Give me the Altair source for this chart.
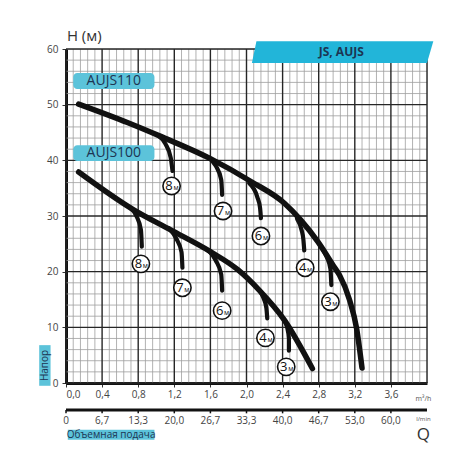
import altair as alt
import pandas as pd

# ---------------- data ----------------
# main pump curves (Q in m3/h, H in m)
aujs110_q = [0.14, 0.68, 1.05, 1.60, 2.05, 2.42, 2.60, 2.79, 2.97, 3.03, 3.14, 3.22, 3.28]
aujs110_h = [50.1, 46.8, 44.3, 40.3, 36.2, 32.3, 29.3, 25.4, 20.9, 19.4, 15.0, 9.8, 2.7]
aujs100_q = [0.14, 0.75, 1.16, 1.60, 1.90, 2.14, 2.42, 2.73]
aujs100_h = [37.9, 31.1, 27.5, 23.6, 20.4, 16.7, 11.3, 2.6]

# suction-depth branches
branch_ids = ["110-8", "110-7", "110-6", "110-4", "110-3",
              "100-8", "100-7", "100-6", "100-4", "100-3"]
branch_q = [[1.02, 1.10, 1.16, 1.18], [1.57, 1.66, 1.72, 1.73], [2.03, 2.12, 2.15, 2.16],
            [2.56, 2.61, 2.63, 2.64], [2.82, 2.89, 2.93, 2.94],
            [0.71, 0.78, 0.83, 0.84], [1.14, 1.22, 1.28, 1.29], [1.58, 1.66, 1.72, 1.73],
            [2.13, 2.19, 2.22, 2.23], [2.41, 2.45, 2.47, 2.47]]
branch_h = [[44.5, 43.0, 40.5, 38.1], [40.6, 39.0, 36.5, 33.8], [35.9, 33.4, 31.5, 29.6],
            [29.5, 27.5, 25.8, 23.8], [24.6, 22.6, 20.5, 17.6],
            [31.5, 30.0, 27.5, 24.5], [27.8, 26.0, 23.5, 20.7], [23.8, 22.0, 19.5, 16.6],
            [16.9, 15.2, 13.5, 11.6], [11.5, 10.0, 8.0, 5.8]]

# circled depth labels
label_digit = ["8", "7", "6", "4", "3", "8", "7", "6", "4", "3"]
label_unit = ["м"] * 10
label_q = [1.17, 1.74, 2.16, 2.65, 2.93, 0.83, 1.29, 1.73, 2.21, 2.44]
label_h = [35.4, 30.9, 26.4, 20.7, 14.6, 21.4, 17.1, 13.0, 8.1, 2.9]

# axes
x_ticks = [0.0, 0.4, 0.8, 1.2, 1.6, 2.0, 2.4, 2.8, 3.2, 3.6]
x_labels_m3h = ["0,0", "0,4", "0,8", "1,2", "1,6", "2,0", "2,4", "2,8", "3,2", "3,6"]
x_labels_lmin = ["0", "6,7", "13,3", "20,0", "26,7", "33,3", "40,0", "46,7", "53,0", "60,0"]
y_ticks = [0, 10, 20, 30, 40, 50, 60]
major_x = [0.0, 0.4, 0.8, 1.2, 1.6, 2.0, 2.4, 2.8, 3.2, 3.6, 4.0]
minor_x = [round(0.08 * k, 2) for k in range(51) if k % 5 != 0]
major_y = [0, 10, 20, 30, 40, 50, 60]
minor_y = [k for k in range(0, 61, 2) if k % 10 != 0]
lmin_axis_level = -4.85   # second (l/min) axis, drawn below the first one

# annotation boxes
box_text = ["AUJS110", "AUJS100"]
box_x0 = [0.08, 0.08]
box_x1 = [0.98, 0.98]
box_y0 = [52.8, 39.9]
box_y1 = [55.7, 42.7]

banner_x = [2.06, 2.11, 4.00, 4.07]
banner_top = [57.5, 61.4, 61.4, 61.4]
banner_bottom = [57.5, 57.5, 57.5, 61.4]

CYAN = "#5CC3DA"
BANNER = "#22B5D9"
NAVY = "#1C3553"
FONT = "Open Sans"

xs = alt.Scale(domain=[0, 4], nice=False, zero=False)
ys = alt.Scale(domain=[0, 60], nice=False, zero=False)

def lbl_expr(labels):
    arr = "[" + ",".join('"%s"' % s for s in labels) + "]"
    return arr + "[round(datum.value / 0.4)]"

# ---------------- tables ----------------
main_df = pd.DataFrame(
    [{"q": q, "h": h, "id": "AUJS110", "o": i} for i, (q, h) in enumerate(zip(aujs110_q, aujs110_h))]
    + [{"q": q, "h": h, "id": "AUJS100", "o": i} for i, (q, h) in enumerate(zip(aujs100_q, aujs100_h))]
)
br_rows = []
for bid, qs, hs in zip(branch_ids, branch_q, branch_h):
    for i, (q, h) in enumerate(zip(qs, hs)):
        br_rows.append({"q": q, "h": h, "id": bid, "o": i})
br_df = pd.DataFrame(br_rows)
lab_df = pd.DataFrame({"q": label_q, "h": label_h, "d": label_digit, "u": label_unit})

NOAX = dict(title=None)

# ---------------- main axes (carried by an invisible layer) ----------------
axes_layer = alt.Chart(pd.DataFrame({"q": [0.0, 4.0], "h": [0, 60]})).mark_point(opacity=0).encode(
    x=alt.X("q:Q", scale=xs, title=None, axis=alt.Axis(
        values=x_ticks, labelExpr=lbl_expr(x_labels_m3h),
        domainWidth=3, domainColor="#111", tickColor="#333", tickSize=4,
        labelFont=FONT, labelFontSize=10, labelColor="#444", labelPadding=2, grid=False)),
    y=alt.Y("h:Q", scale=ys, title=None, axis=alt.Axis(
        values=y_ticks, domainWidth=3, domainColor="#111", tickColor="#333", tickSize=4,
        labelFont=FONT, labelFontSize=10, labelColor="#444", labelPadding=4, grid=False)))

# ---------------- grid ----------------
minor_v = alt.Chart(pd.DataFrame({"q": minor_x, "y0": 0, "y1": 60})).mark_rule(
    color="#9E9E9E", strokeWidth=0.8).encode(
    x=alt.X("q:Q", **NOAX), y=alt.Y("y0:Q", **NOAX), y2="y1:Q")
minor_h = alt.Chart(pd.DataFrame({"h": minor_y, "x0": 0, "x1": 4})).mark_rule(
    color="#9E9E9E", strokeWidth=0.8).encode(
    y=alt.Y("h:Q", **NOAX), x=alt.X("x0:Q", **NOAX), x2="x1:Q")
major_v = alt.Chart(pd.DataFrame({"q": major_x, "y0": 0, "y1": 60})).mark_rule(
    color="#262626", strokeWidth=1.4).encode(
    x=alt.X("q:Q", **NOAX), y=alt.Y("y0:Q", **NOAX), y2="y1:Q")
major_h = alt.Chart(pd.DataFrame({"h": major_y, "x0": 0, "x1": 4})).mark_rule(
    color="#262626", strokeWidth=1.4).encode(
    y=alt.Y("h:Q", **NOAX), x=alt.X("x0:Q", **NOAX), x2="x1:Q")

# ---------------- second (l/min) axis ----------------
lmin_df = pd.DataFrame({"q": x_ticks, "t": x_labels_lmin, "y0": lmin_axis_level,
                        "y1": lmin_axis_level - 0.6, "yl": lmin_axis_level - 1.9})
lmin_line = alt.Chart(pd.DataFrame({"x0": [0.0], "x1": [4.0], "y": [lmin_axis_level]})).mark_rule(
    color="#111", strokeWidth=3).encode(
    x=alt.X("x0:Q", **NOAX), x2="x1:Q", y=alt.Y("y:Q", **NOAX))
lmin_ticks = alt.Chart(lmin_df).mark_rule(color="#111", strokeWidth=1.5).encode(
    x=alt.X("q:Q", **NOAX), y=alt.Y("y0:Q", **NOAX), y2="y1:Q")
lmin_labels = alt.Chart(lmin_df).mark_text(font=FONT, fontSize=10, color="#444").encode(
    x=alt.X("q:Q", **NOAX), y=alt.Y("yl:Q", **NOAX), text="t:N")

# ---------------- curves ----------------
mains = alt.Chart(main_df).mark_line(color="#111", strokeWidth=5.5, strokeCap="round",
                                     interpolate="monotone").encode(
    x=alt.X("q:Q", **NOAX), y=alt.Y("h:Q", **NOAX), detail="id:N", order="o:Q")
branches = alt.Chart(br_df).mark_line(color="#111", strokeWidth=4.2, strokeCap="round",
                                      interpolate="monotone").encode(
    x=alt.X("q:Q", **NOAX), y=alt.Y("h:Q", **NOAX), detail="id:N", order="o:Q")

circles = alt.Chart(lab_df).mark_circle(size=300, color="white", opacity=1,
                                        stroke="#111", strokeWidth=1.6).encode(
    x=alt.X("q:Q", **NOAX), y=alt.Y("h:Q", **NOAX))
digits = alt.Chart(lab_df).mark_text(font=FONT, fontSize=13, dx=-2.5, dy=0, color="#111").encode(
    x=alt.X("q:Q", **NOAX), y=alt.Y("h:Q", **NOAX), text="d:N")
units = alt.Chart(lab_df).mark_text(font=FONT, fontSize=7, dx=4.5, dy=2, color="#111").encode(
    x=alt.X("q:Q", **NOAX), y=alt.Y("h:Q", **NOAX), text="u:N")

# ---------------- annotations ----------------
box_df = pd.DataFrame({"x0": box_x0, "x1": box_x1, "y0": box_y0, "y1": box_y1, "t": box_text})
box_df["xc"] = (box_df["x0"] + box_df["x1"]) / 2
box_df["yc"] = (box_df["y0"] + box_df["y1"]) / 2
boxes = alt.Chart(box_df).mark_rect(color=CYAN, cornerRadius=4).encode(
    x=alt.X("x0:Q", **NOAX), x2="x1:Q", y=alt.Y("y0:Q", **NOAX), y2="y1:Q")
box_txt = alt.Chart(box_df).mark_text(font=FONT, fontSize=14, color=NAVY).encode(
    x=alt.X("xc:Q", **NOAX), y=alt.Y("yc:Q", **NOAX), text="t:N")

banner = alt.Chart(pd.DataFrame({"x": banner_x, "t": banner_top, "b": banner_bottom})).mark_area(
    color=BANNER, opacity=1, interpolate="linear").encode(
    x=alt.X("x:Q", **NOAX), y=alt.Y("t:Q", **NOAX), y2="b:Q")

side_df = pd.DataFrame({
    "x0": [0.02, -0.297], "x1": [0.98, -0.171], "y0": [-10.2, -0.5], "y1": [-8.4, 6.8]})
side_boxes = alt.Chart(side_df).mark_rect(color=CYAN).encode(
    x=alt.X("x0:Q", **NOAX), x2="x1:Q", y=alt.Y("y0:Q", **NOAX), y2="y1:Q")

def txt(t, q, h, **kw):
    return alt.Chart(pd.DataFrame({"q": [q], "h": [h], "t": [t]})).mark_text(**kw).encode(
        x=alt.X("q:Q", **NOAX), y=alt.Y("h:Q", **NOAX), text="t:N")

texts = [
    txt("JS, AUJS", 3.05, 59.5, font=FONT, fontSize=12, fontWeight="bold", color=NAVY),
    txt("H (м)", 0.01, 62.3, font=FONT, fontSize=15, color="#333", align="left"),
    txt("Объемная подача", 0.5, -9.3, font=FONT, fontSize=10, color=NAVY),
    txt("Напор", -0.234, 3.15, font=FONT, fontSize=10, color=NAVY, angle=270),
    txt("Q", 3.96, -9.4, font=FONT, fontSize=17, color="#333"),
    txt("m³/h", 3.96, -2.9, font=FONT, fontSize=7, color="#555"),
    txt("l/min", 3.96, -6.5, font=FONT, fontSize=6, color="#555"),
]

chart = alt.layer(
    axes_layer, minor_v, minor_h, major_v, major_h,
    lmin_line, lmin_ticks, lmin_labels,
    mains, branches, circles, digits, units,
    boxes, box_txt, banner, side_boxes, *texts
).properties(
    width=361, height=334,
    autosize=alt.AutoSizeParams(type="none"),
    padding={"left": 58, "top": 41, "right": 40, "bottom": 70},
).configure_view(stroke=None).configure(background="white")

chart.save("out.html", embed_options={"renderer": "svg", "actions": False})
